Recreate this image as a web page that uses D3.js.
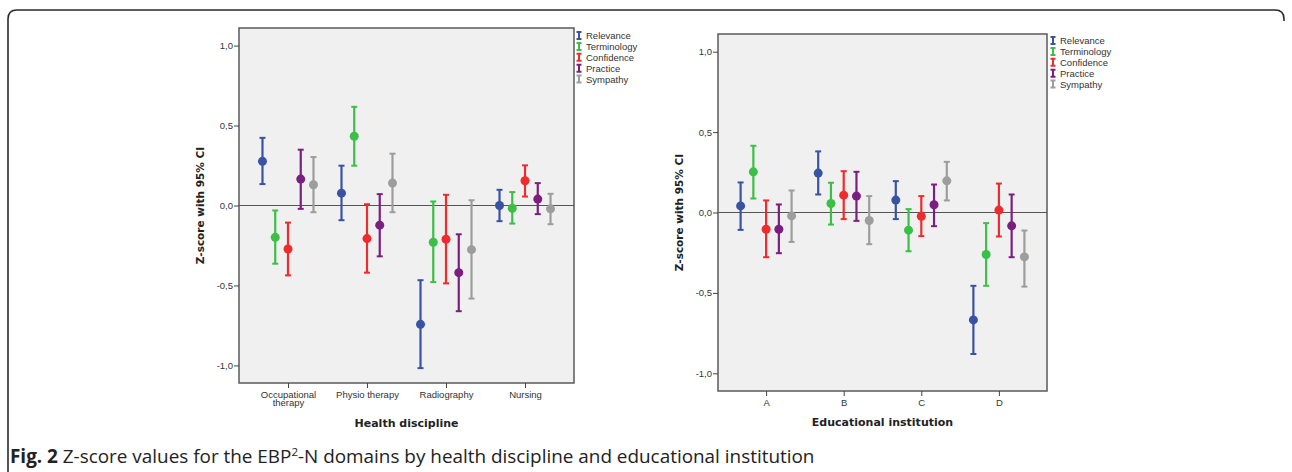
<!doctype html>
<html lang="en">
<head>
  <meta charset="utf-8">
  <title>Z-score error bars</title>
  <script src="https://d3js.org/d3.v7.min.js"></script>
  <style>
    body { margin: 0; background: #fff; }
  </style>
</head>
<body>
<div id="fig"></div>
<script>
  // data
  const disciplines = ["Occupational therapy", "Physio therapy", "Radiography", "Nursing"];
  const institutions = ["A", "B", "C", "D"];
  const domains = ["Relevance", "Terminology", "Confidence", "Practice", "Sympathy"];
  const domainColors = ["#3953a4", "#3cbf46", "#ef2b2d", "#7a1f80", "#9d9d9d"];
  const yTicks = [-1, -0.5, 0, 0.5, 1];

  // rows follow domains, columns follow disciplines
  const disciplineMean = [
    [0.276, 0.077, -0.743, 0.000],
    [-0.199, 0.433, -0.230, -0.017],
    [-0.272, -0.207, -0.211, 0.155],
    [0.165, -0.123, -0.420, 0.040],
    [0.130, 0.140, -0.276, -0.021]
  ];
  const disciplineLow = [
    [0.134, -0.092, -1.017, -0.098],
    [-0.364, 0.249, -0.479, -0.113],
    [-0.437, -0.420, -0.487, 0.056],
    [-0.021, -0.318, -0.661, -0.054],
    [-0.042, -0.042, -0.582, -0.117]
  ];
  const disciplineHigh = [
    [0.423, 0.249, -0.467, 0.098],
    [-0.031, 0.617, 0.025, 0.084],
    [-0.107, 0.008, 0.067, 0.251],
    [0.349, 0.071, -0.180, 0.140],
    [0.303, 0.324, 0.033, 0.073]
  ];

  // rows follow domains, columns follow institutions
  const institutionMean = [
    [0.041, 0.245, 0.077, -0.668],
    [0.253, 0.056, -0.110, -0.261],
    [-0.104, 0.108, -0.023, 0.015],
    [-0.104, 0.102, 0.048, -0.083],
    [-0.021, -0.050, 0.197, -0.276]
  ];
  const institutionLow = [
    [-0.108, 0.112, -0.041, -0.880],
    [0.087, -0.075, -0.241, -0.456],
    [-0.278, -0.041, -0.147, -0.149],
    [-0.253, -0.052, -0.085, -0.278],
    [-0.183, -0.197, 0.075, -0.461]
  ];
  const institutionHigh = [
    [0.187, 0.380, 0.195, -0.456],
    [0.415, 0.185, 0.021, -0.066],
    [0.075, 0.257, 0.102, 0.180],
    [0.050, 0.253, 0.174, 0.112],
    [0.137, 0.102, 0.315, -0.112]
  ];

  const W = 1292, H = 472;
  const svg = d3.select("#fig").append("svg")
    .attr("width", W).attr("height", H)
    .style("font-family", "Liberation Sans, Arial, sans-serif");

  // outer frame (rounded top corners, right side stops just below the corner)
  const r0 = 9;
  svg.append("path")
    .attr("d", `M8,${H + 5} V${10 + r0} Q8,10 ${8 + r0},10 H${1284 - r0} Q1284,10 1284,${10 + r0} V21`)
    .attr("fill", "none").attr("stroke", "#2a2a2a").attr("stroke-width", 1.6);

  const fmt = v => d3.format(".1f")(v).replace(".", ",").replace("−", "-");
  const color = d3.scaleOrdinal().domain(domains).range(domainColors);

  function panel(cfg) {
    const {left, right, top, bottom, cats, mean, low, high, xTitle, titleGap, legendX, legendY} = cfg;
    const g = svg.append("g");

    const x = d3.scalePoint().domain(cats).range([left, right]).padding(0.62);
    const off = d3.scalePoint().domain(domains).range([-25.5, 25.5]);
    const y = d3.scaleLinear().domain([-1.11, 1.11]).range([bottom, top]);

    g.append("rect")
      .attr("x", left).attr("y", top)
      .attr("width", right - left).attr("height", bottom - top)
      .attr("fill", "#f0f0f0").attr("stroke", "#5a5a5a").attr("stroke-width", 1.5);

    // zero reference line
    g.append("line")
      .attr("x1", left).attr("x2", right)
      .attr("y1", y(0)).attr("y2", y(0))
      .attr("stroke", "#555").attr("stroke-width", 1.2);

    // axes
    const ya = g.append("g")
      .attr("transform", `translate(${left},0)`)
      .call(d3.axisLeft(y).tickValues(yTicks).tickFormat(fmt).tickSize(5).tickPadding(1));
    ya.select(".domain").remove();
    ya.selectAll("line").attr("stroke", "#444");
    ya.selectAll("text").attr("font-size", 9.5).attr("fill", "#333")
      .style("font-family", "Liberation Sans, Arial, sans-serif");

    const xa = g.append("g")
      .attr("transform", `translate(0,${bottom})`)
      .call(d3.axisBottom(x).tickSize(5).tickPadding(3));
    xa.select(".domain").remove();
    xa.selectAll("line").attr("stroke", "#444");
    xa.selectAll("text").attr("font-size", 9.5).attr("fill", "#333")
      .style("font-family", "Liberation Sans, Arial, sans-serif")
      .each(function(d) {
        const t = d3.select(this);
        if (d === "Occupational therapy") {
          t.text(null);
          t.append("tspan").attr("x", 0).attr("dy", "0.71em").text("Occupational");
          t.append("tspan").attr("x", 0).attr("dy", "0.9em").text("therapy");
          t.attr("dy", null);
        }
      });

    // titles
    g.append("text")
      .attr("transform", `translate(${left - 35},${(top + bottom) / 2}) rotate(-90)`)
      .attr("text-anchor", "middle")
      .style("font-family", "DejaVu Sans, Verdana, sans-serif")
      .attr("font-weight", "bold").attr("font-size", 10.5).attr("fill", "#222")
      .text("Z-score with 95% CI");
    g.append("text")
      .attr("x", (left + right) / 2).attr("y", bottom + titleGap)
      .attr("text-anchor", "middle")
      .style("font-family", "DejaVu Sans, Verdana, sans-serif")
      .attr("font-weight", "bold").attr("font-size", 11).attr("fill", "#222")
      .text(xTitle);

    // error bars
    domains.forEach((dom, si) => {
      const sg = g.append("g").attr("stroke", color(dom)).attr("fill", color(dom));
      const rows = cats.map((c, ci) => ({c, m: mean[si][ci], lo: low[si][ci], hi: high[si][ci]}));
      const bar = sg.selectAll("g").data(rows).enter().append("g")
        .attr("transform", d => `translate(${x(d.c) + off(dom)},0)`);
      bar.append("line")
        .attr("y1", d => y(d.lo)).attr("y2", d => y(d.hi))
        .attr("stroke-width", 2.2);
      bar.append("line")
        .attr("x1", -3).attr("x2", 3)
        .attr("y1", d => y(d.hi)).attr("y2", d => y(d.hi))
        .attr("stroke-width", 2);
      bar.append("line")
        .attr("x1", -3).attr("x2", 3)
        .attr("y1", d => y(d.lo)).attr("y2", d => y(d.lo))
        .attr("stroke-width", 2);
      bar.append("circle")
        .attr("cy", d => y(d.m)).attr("r", 4.5)
        .attr("stroke", "none");
    });

    // legend
    const lg = g.append("g").attr("transform", `translate(${legendX},${legendY})`);
    const item = lg.selectAll("g").data(domains).enter().append("g")
      .attr("transform", (d, i) => `translate(0,${i * 10.9})`);
    item.append("path")
      .attr("d", "M-2.5,-3.5 H2.5 M0,-3.5 V3.5 M-2.5,3.5 H2.5")
      .attr("stroke", d => color(d)).attr("stroke-width", 2).attr("fill", "none");
    item.append("text")
      .attr("x", 7).attr("y", 3.5)
      .attr("font-size", 9.5).attr("fill", "#333")
      .text(d => d);
  }

  panel({
    left: 239, right: 574, top: 28, bottom: 383,
    cats: disciplines, mean: disciplineMean, low: disciplineLow, high: disciplineHigh,
    xTitle: "Health discipline", titleGap: 44, legendX: 579, legendY: 35.5
  });

  panel({
    left: 718, right: 1047, top: 34, bottom: 391,
    cats: institutions, mean: institutionMean, low: institutionLow, high: institutionHigh,
    xTitle: "Educational institution", titleGap: 35, legendX: 1053, legendY: 40.5
  });

  // caption
  const cap = svg.append("text")
    .attr("x", 10).attr("y", 463)
    .style("font-family", "Open Sans, Noto Sans, sans-serif")
    .attr("font-size", 18.9).attr("fill", "#222");
  cap.append("tspan").attr("font-weight", "bold").text("Fig. 2");
  cap.append("tspan").text(" Z-score values for the EBP");
  cap.append("tspan").attr("font-size", 11.5).attr("dy", -7).text("2");
  cap.append("tspan").attr("dy", 7).text("-N domains by health discipline and educational institution");
</script>
</body>
</html>
